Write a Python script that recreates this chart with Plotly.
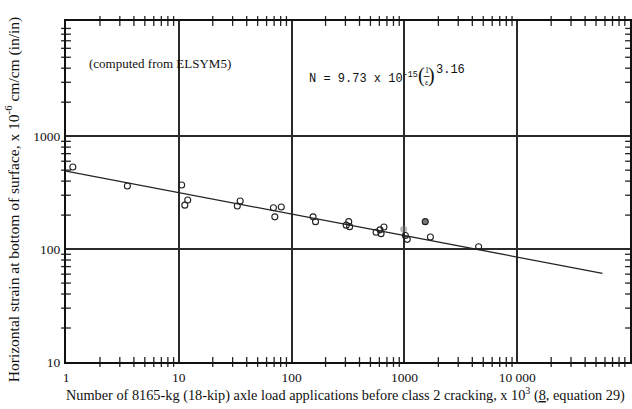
import plotly.graph_objects as go

# Data
pts_x = [1.15, 3.5, 10.6, 11.3, 12, 33, 35, 69, 71, 81, 155, 163, 305, 321, 327,
         561, 608, 621, 659, 1020, 1060, 1700, 4550]
pts_y = [533, 362, 369, 245, 272, 241, 267, 232, 193, 236, 193, 175, 163, 175, 158,
         141, 148, 137, 157, 132, 122, 128, 105]
dark_x = [1530]
dark_y = [175]
smudge_x = [985]
smudge_y = [150]
fit_x = [1, 57000]
fit_y = [490, 61]

x_tickvals = [1, 10, 100, 1000, 10000]
x_ticktext = ["1", "10", "100", "1000", "10 000"]
y_tickvals = [10, 100, 1000]
y_ticktext = ["10", "100", "1000"]
x_minor = [m * 10 ** d for d in range(0, 5) for m in range(2, 10)]
y_minor = [m * 10 ** d for d in range(1, 4) for m in range(2, 10)]

SERIF = "Liberation Serif, Times New Roman, serif"
MONO = "Liberation Mono, Courier New, monospace"

XR = [0, 5]
YR = [1, 4.02]
x_lo, x_hi = 10 ** XR[0], 10 ** XR[1]
y_lo, y_hi = 10 ** YR[0], 10 ** YR[1]

fig = go.Figure()
fig.add_trace(go.Scatter(x=fit_x, y=fit_y, mode="lines",
                         line=dict(color="#222", width=1.2), showlegend=False))
fig.add_trace(go.Scatter(x=smudge_x, y=smudge_y, mode="markers",
                         marker=dict(symbol="circle", size=7, color="rgba(120,120,120,0.5)",
                                     line=dict(width=0)), showlegend=False))
fig.add_trace(go.Scatter(x=pts_x, y=pts_y, mode="markers",
                         marker=dict(symbol="circle-open", size=6, color="#222",
                                     line=dict(width=1.1)), showlegend=False))
fig.add_trace(go.Scatter(x=dark_x, y=dark_y, mode="markers",
                         marker=dict(symbol="circle", size=6, color="#777",
                                     line=dict(width=1.1, color="#222")), showlegend=False))

# minor tick marks on all four frame edges (at the 2..9 log positions)
tick_marker_x = dict(symbol="line-ns", size=7, line=dict(width=1.3, color="#222"))
tick_marker_y = dict(symbol="line-ew", size=7, line=dict(width=1.3, color="#222"))
for yedge in (y_lo, y_hi):
    fig.add_trace(go.Scatter(x=x_minor, y=[yedge] * len(x_minor), mode="markers",
                             marker=tick_marker_x, cliponaxis=False, showlegend=False,
                             hoverinfo="skip"))
for xedge in (x_lo, x_hi):
    fig.add_trace(go.Scatter(x=[xedge] * len(y_minor), y=y_minor, mode="markers",
                             marker=tick_marker_y, cliponaxis=False, showlegend=False,
                             hoverinfo="skip"))

L, R, T, B = 66, 0, 21, 47
W, H = 632, 409
pw, ph = W - L - R, H - T - B

def px(xp):
    return (xp - L) / pw

def py(yp):
    return (H - B - yp) / ph

axis_common = dict(
    type="log", showline=True, linecolor="#111", linewidth=2, mirror=True,
    ticks="", showgrid=True, gridcolor="#2a2a2a", gridwidth=2, zeroline=False,
    tickfont=dict(family=SERIF, size=13.5, color="#111"),
)

fig.update_layout(
    width=W, height=H, margin=dict(l=L, r=R, t=T, b=B),
    paper_bgcolor="white", plot_bgcolor="white",
    xaxis=dict(axis_common, range=XR, tickvals=x_tickvals, ticktext=x_ticktext,
               ticklabelstandoff=2),
    yaxis=dict(axis_common, range=YR, tickvals=y_tickvals, ticktext=y_ticktext,
               ticklabelstandoff=1),
)

def A(text, xp, yp, size, fam=SERIF, xa="center", ya="middle", angle=0):
    return dict(text=text, x=px(xp), y=py(yp), xref="paper", yref="paper",
                xanchor=xa, yanchor=ya, showarrow=False, textangle=angle,
                font=dict(family=fam, size=size, color="#111"))

ann = [
    A("Number of 8165-kg (18-kip) axle load applications before class 2 cracking, x 10<sup>3</sup> (<u>8</u>, equation 29)",
      346, 394, 14.3),
    A("Horizontal strain at bottom of surface, x 10<sup>-6</sup> cm/cm (in/in)", 12, 200, 15.5,
      angle=-90),
    A("(computed from ELSYM5)", 160, 63, 13),
    A("N = 9.73 x 10<sup>-15</sup>", 421, 78, 12, MONO, xa="right"),
    A("(", 423, 76, 20, xa="center"),
    A("1", 428, 70, 8),
    A("ε", 428, 83, 8),
    A(")", 433, 76, 20, xa="center"),
    A("3.16", 435, 70, 12, MONO, xa="left"),
]
fig.update_layout(annotations=ann)
fig.add_shape(type="line", xref="paper", yref="paper", x0=px(425), x1=px(431),
              y0=py(76.5), y1=py(76.5), line=dict(color="#111", width=0.8))

fig.write_html("out.html")
